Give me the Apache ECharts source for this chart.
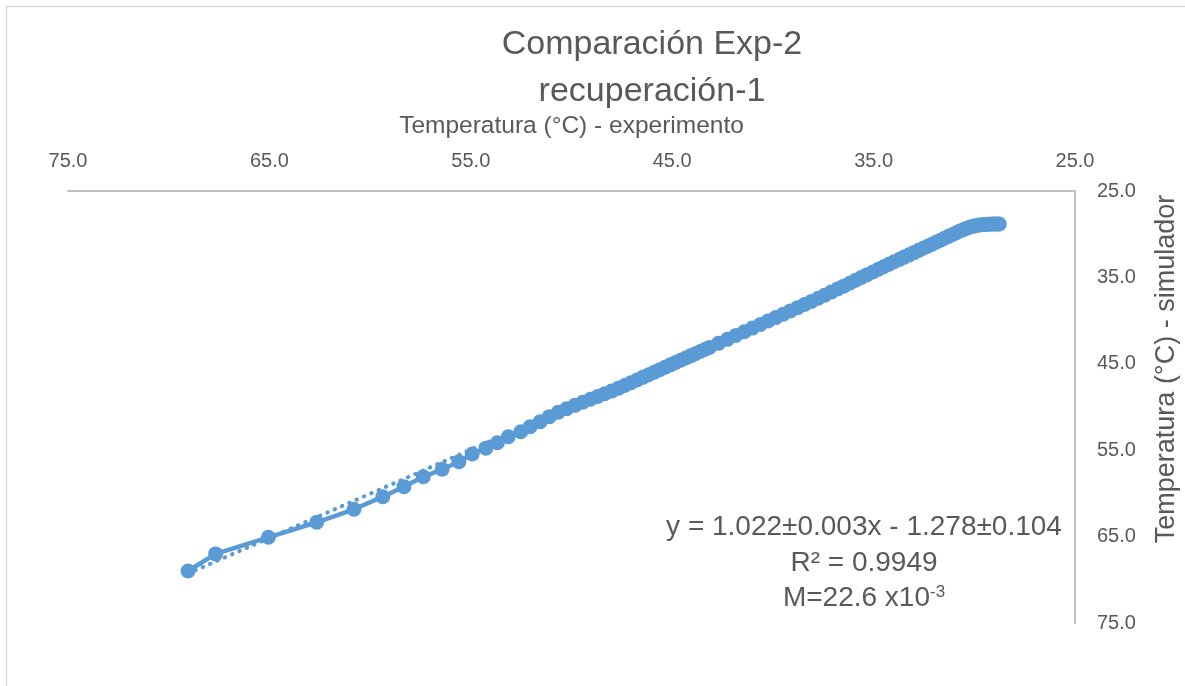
<!DOCTYPE html>
<html lang="es" style="height: 100%">
<head>
  <meta charset="utf-8">
</head>
<body style="height: 100%; margin: 0">
  <div id="container" style="width: 1185px; height: 686px"></div>

  <script type="text/javascript" src="https://cdn.jsdelivr.net/npm/echarts@6/dist/echarts.min.js"></script>

  <script type="text/javascript">
    // Temperatura (°C) - experimento
    var xExp = [
      69.04, 67.67, 65.05, 62.65, 60.80, 59.37, 58.32, 57.36, 56.42, 55.59,
      54.93, 54.25, 53.68, 53.14, 52.52, 52.06, 51.56, 51.10, 50.66,
      50.24, 49.83, 49.44, 49.06, 48.70, 48.35, 48.01, 47.68, 47.36, 47.05,
      46.75, 46.46, 46.17, 45.89, 45.62, 45.35, 45.09, 44.83, 44.58, 44.33,
      44.09, 43.85, 43.61, 43.38, 43.15, 42.70, 42.26, 41.84, 41.42, 41.02,
      40.62, 40.24, 39.86, 39.49, 39.13, 38.77, 38.43, 38.09, 37.75, 37.43,
      37.11, 36.79, 36.49, 36.19, 35.89, 35.60, 35.32, 35.04, 34.76, 34.50,
      34.24, 33.98, 33.72, 33.48, 33.24, 33.00, 32.76, 32.54, 32.32, 32.10,
      31.88, 31.68, 31.48, 31.28, 31.08, 30.89, 30.71, 30.53,
      30.36, 30.20, 30.05, 29.90, 29.76, 29.62, 29.49, 29.37, 29.25, 29.14,
      29.03, 28.93, 28.84, 28.76
    ];
    // Temperatura (°C) - simulador
    var ySim = [
      68.98, 67.00, 65.08, 63.34, 61.84, 60.38, 59.22, 58.07, 57.21, 56.33,
      55.44, 54.78, 54.13, 53.44, 52.86, 52.28, 51.70, 51.12, 50.61,
      50.20, 49.81, 49.45, 49.10, 48.78, 48.47, 48.16, 47.84, 47.51, 47.19,
      46.88, 46.57, 46.27, 45.97, 45.68, 45.40, 45.12, 44.85, 44.59, 44.33,
      44.08, 43.83, 43.58, 43.34, 43.10, 42.63, 42.17, 41.73, 41.29, 40.87,
      40.45, 40.05, 39.65, 39.26, 38.88, 38.50, 38.14, 37.78, 37.42, 37.06,
      36.70, 36.35, 36.01, 35.67, 35.33, 35.00, 34.68, 34.37, 34.06, 33.77,
      33.48, 33.19, 32.91, 32.65, 32.39, 32.13, 31.87, 31.63, 31.39, 31.15,
      30.91, 30.69, 30.47, 30.25, 30.03, 29.83, 29.63, 29.45,
      29.30, 29.17, 29.07, 29.00, 28.94, 28.90, 28.87, 28.85, 28.84, 28.83,
      28.82, 28.82, 28.82, 28.82
    ];

    var xTicks = [25, 75, 10];   // min, max, interval
    var yTicks = [25, 75, 10];

    var slope = 1.022;
    var intercept = -1.278;
    var eqLines = ['y = 1.022±0.003x - 1.278±0.104', 'R² = 0.9949'];
    var mText = 'M=22.6 x10';
    var mExp = '-3';

    var azul = '#5B9BD5';
    var gris = '#595959';
    var fuente = '"Liberation Sans", Arial, sans-serif';

    var puntos = xExp.map(function (x, i) { return [x, ySim[i]]; });
    var xMin = Math.min.apply(null, xExp);
    var xMax = Math.max.apply(null, xExp);
    var tendencia = [
      [xMax, slope * xMax + intercept],
      [xMin, slope * xMin + intercept]
    ];

    var dom = document.getElementById('container');
    var myChart = echarts.init(dom, null, { renderer: 'canvas' });

    function texto(x, y, t, size) {
      return {
        type: 'text', silent: true,
        style: {
          x: x, y: y, text: t,
          font: size + 'px ' + fuente, fill: gris, align: 'center', verticalAlign: 'middle'
        }
      };
    }

    var mLabel = texto(864, 598, mText + '{sup|' + mExp + '}', 28);
    mLabel.style.rich = {
      sup: { fontSize: 17, fontFamily: fuente, fill: gris, verticalAlign: 'top', padding: [0, 0, 12, 0] }
    };

    // titulo del eje Y (Excel lo deja algo por encima del centro)
    var yNombre = texto(0, 0, 'Temperatura (°C) - simulador', 27);
    yNombre.x = 1167;
    yNombre.y = 369;
    yNombre.rotation = Math.PI / 2;

    var option = {
      animation: false,
      backgroundColor: '#fff',
      textStyle: { fontFamily: fuente },
      grid: { left: 68, right: 110, top: 191, bottom: 63, outerBoundsMode: 'none', containLabel: false },
      xAxis: {
        type: 'value',
        position: 'top',
        inverse: true,
        min: xTicks[0], max: xTicks[1], interval: xTicks[2],
        name: 'Temperatura (°C) - experimento',
        nameLocation: 'middle',
        nameGap: 52,
        nameTextStyle: { fontSize: 24.5, color: gris, fontFamily: fuente },
        axisLine: { show: true, lineStyle: { color: '#BFBFBF', width: 2 } },
        axisTick: { show: false },
        splitLine: { show: false },
        axisLabel: {
          fontSize: 20, color: gris, margin: 20, fontFamily: fuente,
          formatter: function (v) { return v.toFixed(1); }
        }
      },
      yAxis: {
        type: 'value',
        position: 'right',
        inverse: true,
        min: yTicks[0], max: yTicks[1], interval: yTicks[2],
        axisLine: { show: true, lineStyle: { color: '#BFBFBF', width: 2 } },
        axisTick: { show: false },
        splitLine: { show: false },
        axisLabel: {
          fontSize: 20, color: gris, margin: 22, fontFamily: fuente,
          formatter: function (v) { return v.toFixed(1); }
        }
      },
      graphic: [
        {
          type: 'rect', silent: true, z: -1,
          shape: { x: 6.5, y: 6.5, width: 1300, height: 800 },
          style: { fill: 'none', stroke: '#D9D9D9', lineWidth: 1.5 }
        },
        texto(652, 45, 'Comparación Exp-2', 34),
        texto(652, 92, 'recuperación-1', 34),
        texto(864, 527, eqLines[0], 28),
        texto(864, 563, eqLines[1], 28),
        mLabel,
        yNombre
      ],
      series: [
        {
          name: 'datos',
          type: 'line',
          data: puntos,
          showAllSymbol: true,
          symbol: 'circle',
          symbolSize: 15,
          itemStyle: { color: azul },
          lineStyle: { color: azul, width: 4.5 },
          z: 2
        },
        {
          name: 'tendencia',
          type: 'line',
          data: tendencia,
          symbol: 'none',
          lineStyle: { color: azul, width: 4, type: [0.5, 7.5], cap: 'round' },
          z: 3
        }
      ]
    };

    myChart.setOption(option);
    window.addEventListener('resize', myChart.resize);
  </script>
</body>
</html>
